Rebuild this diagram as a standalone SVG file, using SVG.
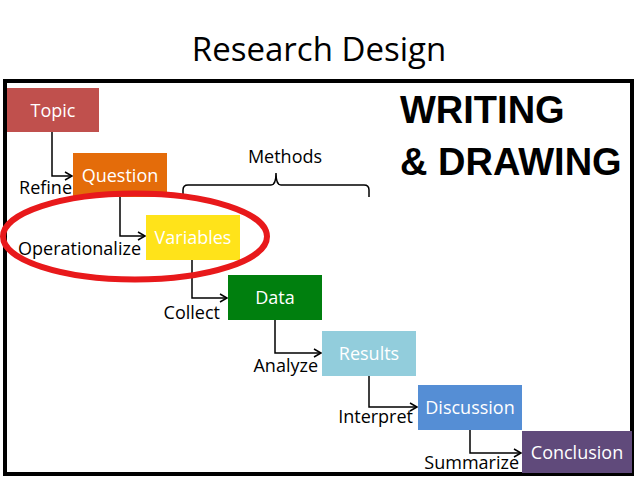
<svg xmlns="http://www.w3.org/2000/svg" width="638" height="479" viewBox="0 0 638 479">
<defs>
<marker id="arr" markerWidth="10" markerHeight="10" refX="8" refY="5" orient="auto" markerUnits="userSpaceOnUse">
<path d="M1,1 L8,5 L1,9" fill="none" stroke="#000" stroke-width="1.5"/>
</marker>
<style>
.lbl{font-family:"Open Sans","Liberation Sans",sans-serif;font-size:18px;fill:#000}
.nt{font-family:"Open Sans","Liberation Sans",sans-serif;font-size:18px;fill:#fff;text-anchor:middle}
.con{fill:none;stroke:#000;stroke-width:1.5}
.big{font-family:"Liberation Sans",Arial,sans-serif;font-weight:bold;font-size:38px;fill:#000}
</style>
</defs>
<rect width="638" height="479" fill="#fff"/>
<text x="319" y="61" text-anchor="middle" style="font-family:'Open Sans','Liberation Sans',sans-serif;font-size:33px;fill:#000">Research Design</text>
<rect x="5" y="81" width="627" height="393" fill="none" stroke="#000" stroke-width="4"/>
<text class="big" x="400" y="123">WRITING</text>
<text class="big" x="400" y="175">&amp; DRAWING</text>
<g id="connectors">
<path class="con" d="M52,132 V176 H72" marker-end="url(#arr)"/>
<path class="con" d="M120,197 V236 H145" marker-end="url(#arr)"/>
<path class="con" d="M192,260 V298 H227" marker-end="url(#arr)"/>
<path class="con" d="M275,320 V353 H321" marker-end="url(#arr)"/>
<path class="con" d="M369,376 V407 H417" marker-end="url(#arr)"/>
<path class="con" d="M470,430 V453 H521" marker-end="url(#arr)"/>
</g>
<g id="labels">
<text class="lbl" x="72" y="194" text-anchor="end">Refine</text>
<text class="lbl" x="141" y="255" text-anchor="end">Operationalize</text>
<text class="lbl" x="220" y="319" text-anchor="end">Collect</text>
<text class="lbl" x="318" y="372" text-anchor="end">Analyze</text>
<text class="lbl" x="413" y="423" text-anchor="end">Interpret</text>
<text class="lbl" x="519" y="469" text-anchor="end">Summarize</text>
</g>
<g id="methods">
<path class="con" d="M183,197 V190 Q183,185 188,185 H271 Q276,185 276,173 Q276,185 281,185 H364 Q369,185 369,190 V197"/>
<text class="lbl" x="285" y="163" text-anchor="middle">Methods</text>
</g>
<g id="topic"><rect x="7" y="88" width="92" height="44" fill="#C0504D"/><text class="nt" x="53" y="117">Topic</text></g>
<g id="question"><rect x="73" y="153" width="94" height="44" fill="#E46C0A"/><text class="nt" x="120" y="182">Question</text></g>
<g id="variables"><rect x="146" y="215" width="94" height="45" fill="#FFE31A"/><text class="nt" x="193" y="244">Variables</text></g>
<g id="data"><rect x="228" y="275" width="94" height="45" fill="#007F0E"/><text class="nt" x="275" y="304">Data</text></g>
<g id="results"><rect x="322" y="331" width="94" height="45" fill="#92CDDC"/><text class="nt" x="369" y="360">Results</text></g>
<g id="discussion"><rect x="418" y="385" width="104" height="45" fill="#558ED5"/><text class="nt" x="470" y="414">Discussion</text></g>
<g id="conclusion"><rect x="522" y="431" width="110" height="42" fill="#604A7B"/><text class="nt" x="577" y="459">Conclusion</text></g>
<ellipse id="highlight" cx="135" cy="236.5" rx="132" ry="43" fill="none" stroke="#E8191B" stroke-width="6"/>
</svg>
